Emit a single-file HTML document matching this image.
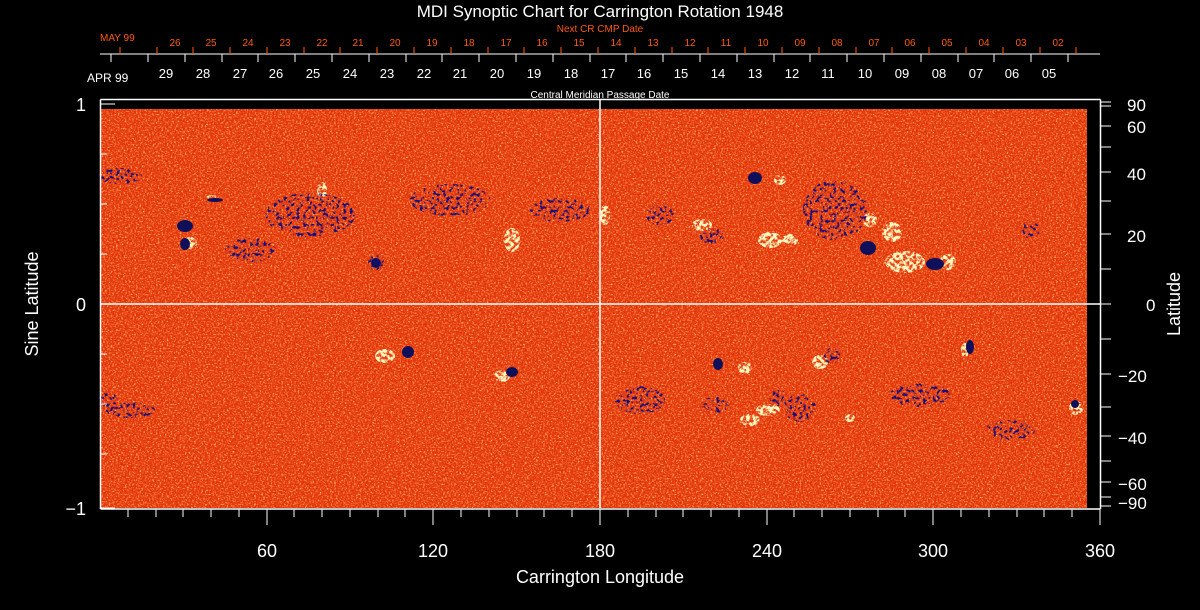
<!DOCTYPE html>
<html><head><meta charset="utf-8"><style>
html,body{margin:0;padding:0;background:#000;}
svg{display:block;font-family:"Liberation Sans",sans-serif;}
</style></head><body>
<svg width="1200" height="610" viewBox="0 0 1200 610" xmlns="http://www.w3.org/2000/svg">
<defs>
<filter id="n" x="0" y="0" width="100%" height="100%">
<feTurbulence type="fractalNoise" baseFrequency="0.55 0.7" numOctaves="2" seed="3" result="t"/>
<feColorMatrix in="t" type="matrix" values="0 0 0 0 1  0 0 0 0 0.62  0 0 0 0 0.15  2.6 0 0 0 -1.2"/>
</filter>
<filter id="n2" x="0" y="0" width="100%" height="100%">
<feTurbulence type="fractalNoise" baseFrequency="0.6 0.5" numOctaves="2" seed="9" result="t"/>
<feColorMatrix in="t" type="matrix" values="0 0 0 0 0.75  0 0 0 0 0.02  0 0 0 0 0  2.6 0 0 0 -1.1"/>
</filter>
<filter id="sp" x="0" y="0" width="100%" height="100%" filterUnits="userSpaceOnUse">
<feTurbulence type="fractalNoise" baseFrequency="0.3" numOctaves="2" seed="5" result="t"/>
<feColorMatrix in="t" type="matrix" result="m" values="0 0 0 0 0  0 0 0 0 0  0 0 0 0 0  8 0 0 0 -4.3"/>
<feComposite in="SourceGraphic" in2="m" operator="in"/>
</filter>
<filter id="sp2" x="0" y="0" width="100%" height="100%" filterUnits="userSpaceOnUse">
<feTurbulence type="fractalNoise" baseFrequency="0.3" numOctaves="2" seed="11" result="t"/>
<feColorMatrix in="t" type="matrix" result="m" values="0 0 0 0 0  0 0 0 0 0  0 0 0 0 0  6 0 0 0 -2.4"/>
<feComposite in="SourceGraphic" in2="m" operator="in"/>
</filter>
</defs>
<rect x="0" y="0" width="1200" height="610" fill="#000"/>
<rect x="101" y="109" width="986" height="399" fill="#e63c12"/>
<rect x="101" y="109" width="986" height="399" filter="url(#n)"/>
<rect x="101" y="109" width="986" height="399" filter="url(#n2)"/>
<g fill="#fff8c0" filter="url(#sp2)">
<ellipse cx="190" cy="243" rx="7" ry="6"/><ellipse cx="212" cy="198" rx="6" ry="3"/>
<ellipse cx="322" cy="190" rx="5" ry="8"/><ellipse cx="385" cy="356" rx="10" ry="7"/>
<ellipse cx="502" cy="376" rx="8" ry="6"/><ellipse cx="745" cy="368" rx="7" ry="6"/>
<ellipse cx="768" cy="410" rx="12" ry="6"/><ellipse cx="820" cy="362" rx="8" ry="7"/>
<ellipse cx="850" cy="418" rx="5" ry="4"/><ellipse cx="892" cy="232" rx="10" ry="10"/>
<ellipse cx="905" cy="262" rx="20" ry="11"/><ellipse cx="948" cy="262" rx="8" ry="8"/>
<ellipse cx="965" cy="350" rx="4" ry="7"/><ellipse cx="1076" cy="408" rx="7" ry="7"/>
<ellipse cx="512" cy="240" rx="8" ry="12"/><ellipse cx="702" cy="225" rx="10" ry="6"/>
<ellipse cx="790" cy="240" rx="8" ry="6"/><ellipse cx="870" cy="220" rx="7" ry="7"/>
<ellipse cx="605" cy="215" rx="5" ry="10"/><ellipse cx="780" cy="180" rx="6" ry="5"/>
<ellipse cx="770" cy="240" rx="12" ry="8"/><ellipse cx="750" cy="420" rx="10" ry="6"/>
</g>
<g fill="#10105a">
<ellipse cx="185" cy="226" rx="8" ry="6"/><ellipse cx="185" cy="244" rx="5" ry="6"/>
<ellipse cx="215" cy="200" rx="8" ry="2"/><ellipse cx="755" cy="178" rx="7" ry="6"/>
<ellipse cx="868" cy="248" rx="8" ry="7"/><ellipse cx="935" cy="264" rx="9" ry="6"/>
<ellipse cx="408" cy="352" rx="6" ry="6"/><ellipse cx="512" cy="372" rx="6" ry="5"/>
<ellipse cx="970" cy="347" rx="4" ry="7"/><ellipse cx="1075" cy="404" rx="4" ry="4"/>
<ellipse cx="376" cy="263" rx="5" ry="5"/><ellipse cx="718" cy="364" rx="5" ry="6"/>
</g>
<g fill="#14107a" filter="url(#sp)">
<ellipse cx="120" cy="176" rx="22" ry="8"/>
<ellipse cx="310" cy="215" rx="45" ry="22"/><ellipse cx="376" cy="263" rx="8" ry="8"/>
<ellipse cx="450" cy="200" rx="40" ry="16"/><ellipse cx="660" cy="215" rx="14" ry="10"/>
<ellipse cx="712" cy="236" rx="12" ry="8"/><ellipse cx="835" cy="210" rx="32" ry="30"/>
<ellipse cx="715" cy="405" rx="14" ry="8"/><ellipse cx="778" cy="398" rx="10" ry="8"/>
<ellipse cx="800" cy="408" rx="16" ry="14"/><ellipse cx="832" cy="356" rx="8" ry="8"/>
<ellipse cx="108" cy="402" rx="10" ry="10"/><ellipse cx="920" cy="395" rx="30" ry="12"/>
<ellipse cx="1030" cy="230" rx="10" ry="8"/><ellipse cx="640" cy="400" rx="25" ry="14"/>
<ellipse cx="1010" cy="430" rx="25" ry="10"/><ellipse cx="560" cy="210" rx="30" ry="12"/>
<ellipse cx="250" cy="250" rx="25" ry="12"/><ellipse cx="130" cy="410" rx="25" ry="8"/>
</g>
<g stroke="#fff" stroke-width="1.5" fill="none">
<line x1="100.5" y1="99.5" x2="1100.5" y2="99.5"/>
<line x1="100.5" y1="99.5" x2="100.5" y2="509"/>
<line x1="1100.5" y1="99.5" x2="1100.5" y2="509"/>
<line x1="100.5" y1="509" x2="1100.5" y2="509"/>
<line x1="600" y1="100" x2="600" y2="508"/>
<line x1="101" y1="304" x2="1100" y2="304"/>
</g>
<g stroke="#fff" stroke-width="1">
<line x1="267" y1="509" x2="267" y2="525"/><line x1="433" y1="509" x2="433" y2="525"/>
<line x1="600" y1="509" x2="600" y2="525"/><line x1="767" y1="509" x2="767" y2="525"/>
<line x1="933" y1="509" x2="933" y2="525"/><line x1="1100" y1="509" x2="1100" y2="525"/>
<line x1="128" y1="509" x2="128" y2="517"/><line x1="156" y1="509" x2="156" y2="517"/><line x1="183" y1="509" x2="183" y2="517"/><line x1="211" y1="509" x2="211" y2="517"/><line x1="239" y1="509" x2="239" y2="517"/>
<line x1="294" y1="509" x2="294" y2="517"/><line x1="322" y1="509" x2="322" y2="517"/><line x1="350" y1="509" x2="350" y2="517"/><line x1="378" y1="509" x2="378" y2="517"/><line x1="405" y1="509" x2="405" y2="517"/>
<line x1="461" y1="509" x2="461" y2="517"/><line x1="489" y1="509" x2="489" y2="517"/><line x1="517" y1="509" x2="517" y2="517"/><line x1="544" y1="509" x2="544" y2="517"/><line x1="572" y1="509" x2="572" y2="517"/>
<line x1="628" y1="509" x2="628" y2="517"/><line x1="656" y1="509" x2="656" y2="517"/><line x1="683" y1="509" x2="683" y2="517"/><line x1="711" y1="509" x2="711" y2="517"/><line x1="739" y1="509" x2="739" y2="517"/>
<line x1="794" y1="509" x2="794" y2="517"/><line x1="822" y1="509" x2="822" y2="517"/><line x1="850" y1="509" x2="850" y2="517"/><line x1="878" y1="509" x2="878" y2="517"/><line x1="905" y1="509" x2="905" y2="517"/>
<line x1="961" y1="509" x2="961" y2="517"/><line x1="989" y1="509" x2="989" y2="517"/><line x1="1017" y1="509" x2="1017" y2="517"/><line x1="1044" y1="509" x2="1044" y2="517"/><line x1="1072" y1="509" x2="1072" y2="517"/>
<line x1="100" y1="104" x2="115" y2="104"/><line x1="100" y1="304" x2="115" y2="304"/><line x1="100" y1="508" x2="115" y2="508"/>
<line x1="100" y1="154" x2="107" y2="154"/><line x1="100" y1="204" x2="107" y2="204"/><line x1="100" y1="254" x2="107" y2="254"/>
<line x1="100" y1="354" x2="107" y2="354"/><line x1="100" y1="404" x2="107" y2="404"/><line x1="100" y1="454" x2="107" y2="454"/>
<line x1="1100" y1="102" x2="1111" y2="102"/><line x1="1100" y1="106" x2="1111" y2="106"/><line x1="1100" y1="126" x2="1111" y2="126"/>
<line x1="1100" y1="147" x2="1111" y2="147"/><line x1="1100" y1="172" x2="1111" y2="172"/><line x1="1100" y1="201" x2="1111" y2="201"/>
<line x1="1100" y1="234" x2="1111" y2="234"/><line x1="1100" y1="269" x2="1111" y2="269"/><line x1="1100" y1="304" x2="1111" y2="304"/>
<line x1="1100" y1="339" x2="1111" y2="339"/><line x1="1100" y1="374" x2="1111" y2="374"/><line x1="1100" y1="407" x2="1111" y2="407"/>
<line x1="1100" y1="436" x2="1111" y2="436"/><line x1="1100" y1="461" x2="1111" y2="461"/><line x1="1100" y1="482" x2="1111" y2="482"/>
<line x1="1100" y1="497" x2="1111" y2="497"/><line x1="1100" y1="506" x2="1111" y2="506"/>
<line x1="100" y1="54" x2="1100" y2="54"/>
<line x1="111" y1="54" x2="111" y2="62"/><line x1="148" y1="54" x2="148" y2="62"/><line x1="185" y1="54" x2="185" y2="62"/><line x1="222" y1="54" x2="222" y2="62"/><line x1="258" y1="54" x2="258" y2="62"/><line x1="295" y1="54" x2="295" y2="62"/><line x1="332" y1="54" x2="332" y2="62"/><line x1="369" y1="54" x2="369" y2="62"/><line x1="406" y1="54" x2="406" y2="62"/><line x1="442" y1="54" x2="442" y2="62"/><line x1="479" y1="54" x2="479" y2="62"/><line x1="516" y1="54" x2="516" y2="62"/><line x1="553" y1="54" x2="553" y2="62"/><line x1="590" y1="54" x2="590" y2="62"/><line x1="626" y1="54" x2="626" y2="62"/><line x1="663" y1="54" x2="663" y2="62"/><line x1="700" y1="54" x2="700" y2="62"/><line x1="737" y1="54" x2="737" y2="62"/><line x1="774" y1="54" x2="774" y2="62"/><line x1="810" y1="54" x2="810" y2="62"/><line x1="847" y1="54" x2="847" y2="62"/><line x1="884" y1="54" x2="884" y2="62"/><line x1="921" y1="54" x2="921" y2="62"/><line x1="958" y1="54" x2="958" y2="62"/><line x1="994" y1="54" x2="994" y2="62"/><line x1="1031" y1="54" x2="1031" y2="62"/><line x1="1068" y1="54" x2="1068" y2="62"/>
</g>
<g stroke="#ff5a10" stroke-width="1">
<line x1="120" y1="47" x2="120" y2="54"/><line x1="157" y1="47" x2="157" y2="54"/><line x1="193" y1="47" x2="193" y2="54"/><line x1="230" y1="47" x2="230" y2="54"/><line x1="267" y1="47" x2="267" y2="54"/><line x1="304" y1="47" x2="304" y2="54"/><line x1="340" y1="47" x2="340" y2="54"/><line x1="377" y1="47" x2="377" y2="54"/><line x1="414" y1="47" x2="414" y2="54"/><line x1="451" y1="47" x2="451" y2="54"/><line x1="488" y1="47" x2="488" y2="54"/><line x1="524" y1="47" x2="524" y2="54"/><line x1="561" y1="47" x2="561" y2="54"/><line x1="598" y1="47" x2="598" y2="54"/><line x1="635" y1="47" x2="635" y2="54"/><line x1="672" y1="47" x2="672" y2="54"/><line x1="708" y1="47" x2="708" y2="54"/><line x1="745" y1="47" x2="745" y2="54"/><line x1="782" y1="47" x2="782" y2="54"/><line x1="819" y1="47" x2="819" y2="54"/><line x1="856" y1="47" x2="856" y2="54"/><line x1="892" y1="47" x2="892" y2="54"/><line x1="929" y1="47" x2="929" y2="54"/><line x1="966" y1="47" x2="966" y2="54"/><line x1="1003" y1="47" x2="1003" y2="54"/><line x1="1040" y1="47" x2="1040" y2="54"/><line x1="1076" y1="47" x2="1076" y2="54"/>
</g>
<g fill="#fff">
<text x="600" y="17" font-size="17" text-anchor="middle">MDI Synoptic Chart for Carrington Rotation 1948</text>
<text x="600" y="98" font-size="10" text-anchor="middle">Central Meridian Passage Date</text>
<text x="87" y="82" font-size="12">APR 99</text>
<g font-size="13" text-anchor="middle">
<text x="166" y="78">29</text><text x="203" y="78">28</text><text x="240" y="78">27</text><text x="276" y="78">26</text><text x="313" y="78">25</text><text x="350" y="78">24</text><text x="387" y="78">23</text><text x="424" y="78">22</text><text x="460" y="78">21</text><text x="497" y="78">20</text><text x="534" y="78">19</text><text x="571" y="78">18</text><text x="608" y="78">17</text><text x="644" y="78">16</text><text x="681" y="78">15</text><text x="718" y="78">14</text><text x="755" y="78">13</text><text x="792" y="78">12</text><text x="828" y="78">11</text><text x="865" y="78">10</text><text x="902" y="78">09</text><text x="939" y="78">08</text><text x="976" y="78">07</text><text x="1012" y="78">06</text><text x="1049" y="78">05</text>
</g>
<g font-size="18" text-anchor="middle">
<text x="267" y="557">60</text><text x="433" y="557">120</text><text x="600" y="557">180</text><text x="767" y="557">240</text><text x="933" y="557">300</text><text x="1100" y="557">360</text>
</g>
<text x="600" y="583" font-size="18" text-anchor="middle">Carrington Longitude</text>
<g font-size="18" text-anchor="end">
<text x="86" y="111">1</text><text x="86" y="311">0</text><text x="86" y="515">−1</text>
</g>
<g font-size="17">
<text x="1127" y="111">90</text><text x="1127" y="133">60</text><text x="1127" y="180">40</text><text x="1127" y="242">20</text><text x="1146" y="311">0</text>
<text x="1118" y="382">−20</text><text x="1118" y="444">−40</text><text x="1118" y="490">−60</text><text x="1118" y="509">−90</text>
</g>
<text transform="translate(38,304) rotate(-90)" font-size="18" text-anchor="middle">Sine Latitude</text>
<text transform="translate(1180,304) rotate(-90)" font-size="18" text-anchor="middle">Latitude</text>
</g>
<g fill="#ff5a10">
<text x="600" y="32" font-size="10" text-anchor="middle">Next CR CMP Date</text>
<text x="100" y="41" font-size="10">MAY 99</text>
<g font-size="10" text-anchor="middle">
<text x="175" y="46">26</text><text x="211" y="46">25</text><text x="248" y="46">24</text><text x="285" y="46">23</text><text x="322" y="46">22</text><text x="358" y="46">21</text><text x="395" y="46">20</text><text x="432" y="46">19</text><text x="469" y="46">18</text><text x="506" y="46">17</text><text x="542" y="46">16</text><text x="579" y="46">15</text><text x="616" y="46">14</text><text x="653" y="46">13</text><text x="690" y="46">12</text><text x="726" y="46">11</text><text x="763" y="46">10</text><text x="800" y="46">09</text><text x="837" y="46">08</text><text x="874" y="46">07</text><text x="910" y="46">06</text><text x="947" y="46">05</text><text x="984" y="46">04</text><text x="1021" y="46">03</text><text x="1058" y="46">02</text>
</g>
</g>
</svg>
</body></html>
